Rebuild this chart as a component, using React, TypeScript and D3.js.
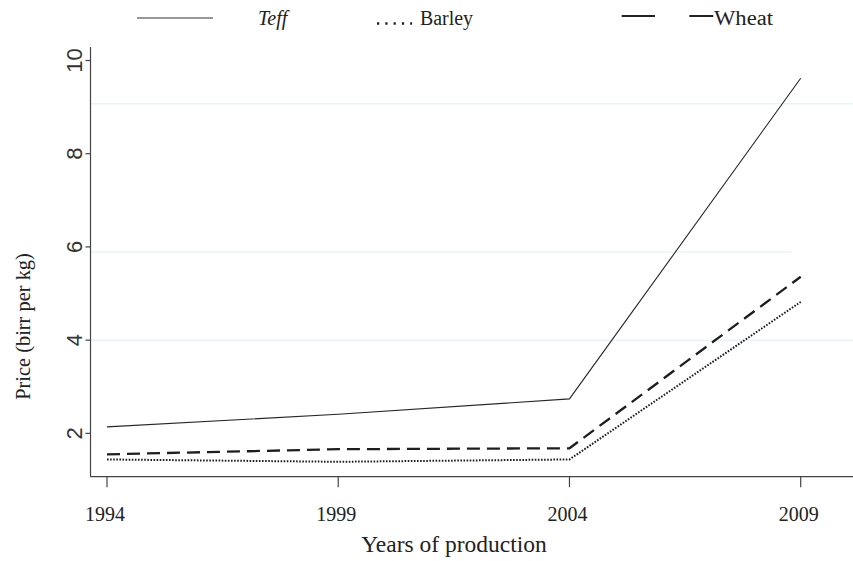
import React from "react";
import * as d3 from "d3";

const years = [1994, 1999, 2004, 2009];
const teff = [2.14, 2.41, 2.74, 9.62];
const wheat = [1.55, 1.66, 1.68, 5.36];
const barley = [1.44, 1.39, 1.44, 4.82];
const yTicks = [2, 4, 6, 8, 10];
const gridValues = [4, 5.89, 9.07];

const W = 853;
const H = 561;

export default function App() {
  const x = d3.scaleLinear().domain([1994, 2009]).range([107, 800.7]);
  const y = d3.scaleLinear().domain([1.07, 10.29]).range([476.7, 47]);
  const axisX = 90.5;
  const axisY = y(1.07);

  const mk = (vals: number[]) =>
    d3
      .line<number>()
      .x((_, i) => x(years[i]))
      .y((v) => y(v))(vals) || "";

  const serif = "'Liberation Serif', 'DejaVu Serif', serif";
  const sans = "'Liberation Sans', Arial, sans-serif";

  return (
    <svg
      width={W}
      height={H}
      style={{ position: "absolute", left: 0, top: 0, background: "#fff" }}
    >
      <rect x={0} y={0} width={W} height={H} fill="#fff" />
      {/* gridlines */}
      {gridValues.map((g, i) => (
        <line
          key={"g" + i}
          x1={axisX}
          x2={i === 1 ? 792 : W}
          y1={y(g)}
          y2={y(g)}
          stroke="#e9f3f7"
          strokeWidth={1.5}
        />
      ))}
      {/* axes */}
      <line x1={axisX} x2={axisX} y1={47} y2={axisY} stroke="#444" strokeWidth={1.2} />
      <line x1={axisX} x2={W} y1={axisY} y2={axisY} stroke="#444" strokeWidth={1.2} />
      {yTicks.map((t) => (
        <g key={"yt" + t}>
          <line x1={axisX - 5} x2={axisX} y1={y(t)} y2={y(t)} stroke="#444" strokeWidth={1.2} />
          <text
            transform={`translate(81.5,${y(t)}) rotate(-90)`}
            textAnchor="middle"
            fontFamily={sans}
            fontSize={22}
            fill="#333"
          >
            {t}
          </text>
        </g>
      ))}
      {years.map((yr) => (
        <g key={"xt" + yr}>
          <line x1={x(yr)} x2={x(yr)} y1={axisY} y2={axisY + 10.5} stroke="#444" strokeWidth={1.2} />
          <text
            x={x(yr) - 2}
            y={521}
            textAnchor="middle"
            fontFamily={serif}
            fontSize={20}
            fill="#222"
          >
            {yr}
          </text>
        </g>
      ))}
      {/* axis titles */}
      <text
        x={454}
        y={551.5}
        textAnchor="middle"
        fontFamily={serif}
        fontSize={23.5}
        fill="#222"
      >
        Years of production
      </text>
      <text
        transform={`translate(30,326.5) rotate(-90)`}
        textAnchor="middle"
        fontFamily={serif}
        fontSize={20.4}
        fill="#222"
      >
        Price (birr per kg)
      </text>
      {/* series */}
      <path d={mk(teff)} fill="none" stroke="#262626" strokeWidth={1.1} />
      <path d={mk(wheat)} fill="none" stroke="#1e1e1e" strokeWidth={2.3} strokeDasharray="13 7" />
      <path d={mk(barley)} fill="none" stroke="#1e1e1e" strokeWidth={2} strokeDasharray="1.6 1.5" />
      {/* legend */}
      <line x1={137} x2={213} y1={18} y2={18} stroke="#333" strokeWidth={1.2} />
      <text x={258} y={25} fontFamily={serif} fontStyle="italic" fontSize={20} fill="#222">
        Teff
      </text>
      <line
        x1={377}
        x2={412}
        y1={23.5}
        y2={23.5}
        stroke="#1e1e1e"
        strokeWidth={2.4}
        strokeDasharray="2.2 6.1"
      />
      <text x={420} y={25} fontFamily={serif} fontSize={20} fill="#222" textLength={53} lengthAdjust="spacingAndGlyphs">
        Barley
      </text>
      <line x1={621.7} x2={655} y1={16} y2={16} stroke="#222" strokeWidth={2} />
      <line x1={689.3} x2={713.3} y1={16} y2={16} stroke="#222" strokeWidth={2} />
      <text x={714} y={25} fontFamily={serif} fontSize={20} fill="#222" textLength={59} lengthAdjust="spacingAndGlyphs">
        Wheat
      </text>
    </svg>
  );
}
